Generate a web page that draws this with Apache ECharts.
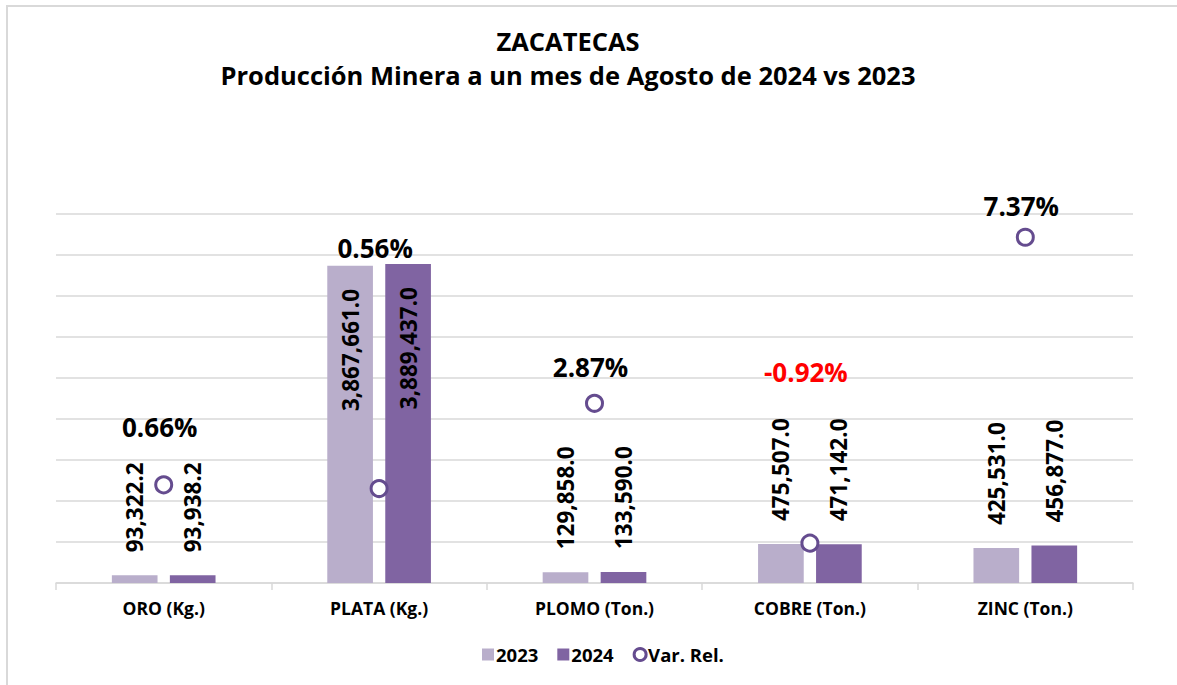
<!DOCTYPE html>
<html>
<head>
<meta charset="utf-8">
<script src="https://cdn.jsdelivr.net/npm/echarts@6/dist/echarts.min.js"></script>
<style>
  html, body { margin: 0; padding: 0; background: #fff; }
  #frame { position: absolute; left: 6px; top: 5px; width: 1200px; height: 700px;
           border-top: 2px solid #d9d9d9; border-left: 2px solid #d9d9d9; }
  #chart { position: absolute; left: 0; top: 0; width: 1177px; height: 685px; }
</style>
</head>
<body>
<div id="frame"></div>
<div id="chart"></div>
<script>
// Producción minera Zacatecas, agosto 2024 vs 2023
var categories = ['ORO (Kg.)', 'PLATA (Kg.)', 'PLOMO (Ton.)', 'COBRE (Ton.)', 'ZINC (Ton.)'];
var prod2023 = [93322.2, 3867661.0, 129858.0, 475507.0, 425531.0];
var prod2024 = [93938.2, 3889437.0, 133590.0, 471142.0, 456877.0];
var varRel = [0.0066, 0.0056, 0.0287, -0.0092, 0.0737];

(function() {
  var font = '"Open Sans", "Noto Sans", sans-serif';
  var c2023 = '#b9aecb';
  var c2024 = '#8064a2';
  var ring = '#654c8f';
  var grid = '#d9d9d9';

  // how far each % label sits above its point (manual placement in the original)
  var varLabelLift = [58, 241, 36, 171, 31];

  function fmt(v) {
    return v.toLocaleString('en-US', { minimumFractionDigits: 1, maximumFractionDigits: 1 });
  }

  function barLabel(params) {
    return fmt(params.value);
  }

  function barData(values) {
    return values.map(function(v, i) {
      var item = { value: v };
      // PLATA bar is tall enough to hold its label inside
      if (i === 1) {
        item.label = { position: 'insideTop', align: 'right', distance: 23 };
      }
      return item;
    });
  }

  var labelBase = {
    show: true,
    position: 'top',
    distance: 23,
    rotate: 90,
    align: 'left',
    verticalAlign: 'middle',
    color: '#000',
    textBorderWidth: 0,
    fontFamily: font,
    fontWeight: 'bold',
    fontSize: 22.5,
    formatter: barLabel
  };

  var chart = echarts.init(document.getElementById('chart'), null, { renderer: 'svg' });
  chart.setOption({
    animation: false,
    title: {
      text: 'ZACATECAS\nProducción Minera a un mes de Agosto de 2024 vs 2023',
      left: 563,
      top: 19,
      textAlign: 'center',
      textStyle: { fontFamily: font, fontWeight: 'bold', fontSize: 25.5, color: '#000', lineHeight: 34 }
    },
    legend: {
      bottom: 16,
      left: 477,
      itemWidth: 12,
      itemHeight: 12,
      itemGap: 19,
      textStyle: { fontFamily: font, fontWeight: 'bold', fontSize: 18.5, color: '#000', padding: [0, 0, 0, -3] },
      data: [
        { name: '2023', icon: 'rect' },
        { name: '2024', icon: 'rect' },
        { name: 'Var. Rel.', icon: 'circle', itemStyle: { color: '#fff', borderColor: ring, borderWidth: 3, opacity: 1 } }
      ]
    },
    grid: { left: 56, right: 44, top: 214, bottom: 102 },
    xAxis: {
      type: 'category',
      data: categories,
      axisLine: { lineStyle: { color: grid, width: 1.5 } },
      axisTick: { show: true, length: 7, lineStyle: { color: grid, width: 1.5 } },
      axisLabel: { color: '#000', fontFamily: font, fontWeight: 'bold', fontSize: 17.5, margin: 16 }
    },
    yAxis: [
      {
        type: 'value',
        min: 0,
        max: 4500000,
        interval: 500000,
        axisLine: { show: false },
        axisTick: { show: false },
        axisLabel: { show: false },
        splitLine: { lineStyle: { color: grid, width: 1.5 } }
      },
      {
        type: 'value',
        min: -0.02,
        max: 0.08,
        axisLine: { show: false },
        axisTick: { show: false },
        axisLabel: { show: false },
        splitLine: { show: false }
      }
    ],
    series: [
      {
        name: '2023',
        type: 'bar',
        data: barData(prod2023),
        barWidth: '21.2%',
        barGap: '27%',
        itemStyle: { color: c2023 },
        label: labelBase
      },
      {
        name: '2024',
        type: 'bar',
        data: barData(prod2024),
        barWidth: '21.2%',
        itemStyle: { color: c2024 },
        label: labelBase
      },
      {
        name: 'Var. Rel.',
        type: 'scatter',
        yAxisIndex: 1,
        z: 5,
        symbol: 'circle',
        symbolSize: 16,
        itemStyle: { color: '#fff', borderColor: ring, borderWidth: 3, opacity: 1 },
        data: varRel.map(function(v, i) {
          return {
            value: v,
            label: {
              offset: [-4, -varLabelLift[i]],
              color: v < 0 ? '#ff0000' : '#000'
            }
          };
        }),
        label: {
          show: true,
          position: 'inside',
          textBorderWidth: 0,
          fontFamily: font,
          fontWeight: 'bold',
          fontSize: 26,
          formatter: function(p) { return (p.value * 100).toFixed(2) + '%'; }
        }
      }
    ]
  });
  window.addEventListener('resize', function() { chart.resize(); });
})();
</script>
</body>
</html>
